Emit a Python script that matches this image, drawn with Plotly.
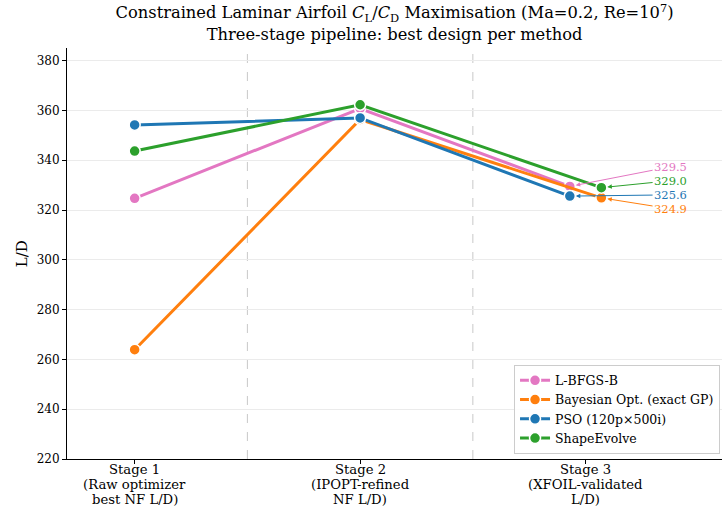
import plotly.graph_objects as go

# ---- data ----
stages = [1, 2, 3]
stage_labels = ["Stage 1<br>(Raw optimizer<br>best NF L/D)",
                "Stage 2<br>(IPOPT-refined<br>NF L/D)",
                "Stage 3<br>(XFOIL-validated<br>L/D)"]
methods = ["L-BFGS-B", "Bayesian Opt. (exact GP)", "PSO (120p×500i)", "ShapeEvolve"]
stage1 = [324.7, 263.9, 354.2, 343.7]
stage2 = [360.8, 356.4, 357.0, 362.3]
stage3 = [329.5, 324.9, 325.6, 329.0]
colors = ["#e377c2", "#ff7f0e", "#1f77b4", "#2ca02c"]

# ---- layout constants ----
stage3_offset = [-0.07, 0.07, -0.07, 0.07]
label_x = 3.377
label_y = [337.4, 320.5, 326.1, 331.8]
FONT = "DejaVu Serif"
PLOT_H = 510 - 48 - 51

fig = go.Figure()
for i, m in enumerate(methods):
    xs = [stages[0], stages[1], stages[2] + stage3_offset[i]]
    ys = [stage1[i], stage2[i], stage3[i]]
    fig.add_trace(go.Scatter(
        x=xs, y=ys, mode="lines+markers", name=m,
        line=dict(color=colors[i], width=3),
        marker=dict(size=11, color=colors[i], line=dict(color="white", width=1.5)),
    ))
    fig.add_annotation(
        x=xs[2], y=ys[2], xref="x", yref="y",
        ax=label_x, ay=label_y[i], axref="x", ayref="y",
        text=f"{stage3[i]:.1f}", showarrow=True,
        arrowhead=2, arrowsize=0.9, arrowwidth=1, arrowcolor=colors[i],
        standoff=6, font=dict(family=FONT, size=11.5, color=colors[i]),
    )

# stage tick labels (one annotation per line for tight matplotlib-like spacing)
for s, lab in zip(stages, stage_labels):
    for j, line in enumerate(lab.split("<br>")):
        ypix = 469 + 15 * j  # centre of line, pixels from top
        fig.add_annotation(x=s, y=-(ypix - 459) / PLOT_H, xref="x", yref="paper",
                           xanchor="center", yanchor="middle", showarrow=False,
                           text=line, font=dict(family=FONT, size=13.2, color="black"))

for xv in [1.5, 2.5]:
    fig.add_shape(type="line", x0=xv, x1=xv, y0=0, y1=1, xref="x", yref="paper",
                  line=dict(color="#c8c8c8", width=1, dash="dash"), layer="below")

fig.add_annotation(x=(21.7 - 67) / 655, y=0.5, xref="paper", yref="paper",
                   xanchor="center", yanchor="middle",
                   text="L/D", textangle=-90, showarrow=False,
                   font=dict(family=FONT, size=15, color="black"))

fig.update_layout(
    width=722, height=510,
    margin=dict(l=67, r=0, t=48, b=51),
    paper_bgcolor="white", plot_bgcolor="white",
    font=dict(family=FONT, size=12, color="black"),
    title=dict(text="Constrained Laminar Airfoil <i>C</i><sub>L</sub>/<i>C</i><sub>D</sub> Maximisation (Ma=0.2, Re=10<sup>7</sup>)<br>Three-stage pipeline: best design per method",
               x=0.5465, xanchor="center", y=0.964, yanchor="top", yref="container",
               font=dict(family=FONT, size=16.3)),
    xaxis=dict(range=[0.7, 3.605], tickmode="array", tickvals=stages, showticklabels=False,
               showgrid=False, zeroline=False, showline=True, linecolor="black", linewidth=1,
               ticks="outside", ticklen=4, tickcolor="black", automargin=False),
    yaxis=dict(range=[220, 385.1], tickmode="linear", tick0=220, dtick=20,
               showgrid=True, gridcolor="#ebebeb", gridwidth=1, zeroline=False,
               showline=True, linecolor="black", linewidth=1,
               ticks="outside", ticklen=4, tickcolor="black", tickfont=dict(size=12),
               automargin=False),
    legend=dict(x=0.997, y=0.013, xanchor="right", yanchor="bottom",
                bgcolor="rgba(255,255,255,0.9)", bordercolor="#cccccc", borderwidth=1,
                font=dict(family=FONT, size=12.5), tracegroupgap=0),
    showlegend=True,
)

fig.write_html("out.html", post_script="document.body.style.margin='0';",
               config={"displayModeBar": False})
